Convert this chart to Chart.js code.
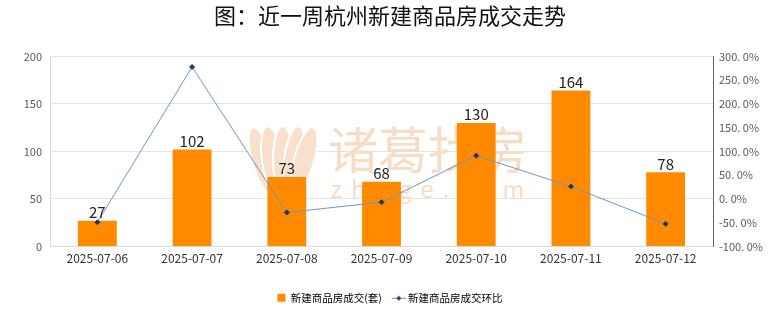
<!DOCTYPE html>
<html>
<head>
<meta charset="utf-8">
<script src="https://cdn.jsdelivr.net/npm/chart.js@4.4.1/dist/chart.umd.min.js"></script>
<style>
  html, body { margin: 0; padding: 0; background: #fff; }
</style>
</head>
<body>
<canvas id="dealChart" width="780" height="328"></canvas>
<script>
const days = ['2025-07-06', '2025-07-07', '2025-07-08', '2025-07-09', '2025-07-10', '2025-07-11', '2025-07-12']
const deals = [27, 102, 73, 68, 130, 164, 78]
const ratio = [-49.1, 277.8, -28.4, -6.8, 91.2, 26.2, -52.4]

const font = "'Noto Sans CJK SC', 'Microsoft YaHei', sans-serif"

// little line + diamond used as legend marker for the ratio series
function lineMarker() {
  const c = document.createElement('canvas')
  c.width = 14
  c.height = 8
  const ctx = c.getContext('2d')
  ctx.strokeStyle = '#5b8cc0'
  ctx.lineWidth = 1
  ctx.beginPath()
  ctx.moveTo(0, 4.5)
  ctx.lineTo(14, 4.5)
  ctx.stroke()
  ctx.fillStyle = '#1f3a5f'
  ctx.beginPath()
  ctx.moveTo(7, 2)
  ctx.lineTo(9.5, 4.5)
  ctx.lineTo(7, 7)
  ctx.lineTo(4.5, 4.5)
  ctx.closePath()
  ctx.fill()
  return c
}

const barLabels = {
  id: 'barLabels',
  afterDatasetsDraw(chart) {
    const ctx = chart.ctx
    const meta = chart.getDatasetMeta(0)
    ctx.save()
    ctx.font = '15px ' + font
    ctx.fillStyle = '#222'
    ctx.textAlign = 'center'
    ctx.textBaseline = 'bottom'
    meta.data.forEach(function(bar, i) {
      ctx.fillText(deals[i], bar.x, bar.y - 1)
    })
    ctx.restore()
  }
}

// faint logo watermark behind the bars
const watermark = {
  id: 'watermark',
  beforeDatasetsDraw(chart) {
    const ctx = chart.ctx
    ctx.save()
    ctx.fillStyle = '#f8e0cd'
    ctx.strokeStyle = '#fff'
    ctx.lineWidth = 2
    const petals = [[-0.55, 262], [-0.28, 272], [0, 283], [0.28, 294], [0.55, 304]]
    petals.forEach(function(p) {
      ctx.beginPath()
      ctx.ellipse(p[1], 160, 10, 34, p[0] * 0.5, 0, Math.PI * 2)
      ctx.fill()
      ctx.stroke()
    })
    ctx.fillStyle = '#f7dcc6'
    ctx.textAlign = 'center'
    ctx.textBaseline = 'middle'
    ctx.font = '50px ' + font
    ctx.fillText('诸葛找房', 428, 150)
    ctx.font = '24px ' + font
    ctx.letterSpacing = '9px'
    ctx.fillText('zhuge.com', 432, 189)
    ctx.restore()
  }
}

new Chart(document.getElementById('dealChart'), {
  type: 'bar',
  data: {
    labels: days,
    datasets: [{
      label: '新建商品房成交(套)',
      data: deals,
      backgroundColor: '#ff8a00',
      barPercentage: 0.41,
      categoryPercentage: 1,
      yAxisID: 'y',
      order: 2
    }, {
      type: 'line',
      label: '新建商品房成交环比',
      data: ratio,
      borderColor: '#6b98c4',
      borderWidth: 1,
      pointStyle: 'rectRot',
      pointRadius: 2.5,
      pointBackgroundColor: '#1f3a5f',
      pointBorderColor: '#1f3a5f',
      tension: 0,
      yAxisID: 'y1',
      order: 1
    }]
  },
  options: {
    responsive: false,
    animation: false,
    devicePixelRatio: 1,
    layout: { padding: { left: 0, right: 0, top: 0, bottom: 15 } },
    plugins: {
      title: {
        display: true,
        text: '图：近一周杭州新建商品房成交走势',
        color: '#111',
        font: { family: font, size: 22, weight: 'normal' },
        padding: { top: 2, bottom: 28 }
      },
      legend: {
        position: 'bottom',
        labels: {
          color: '#333',
          font: { family: font, size: 10.5 },
          boxWidth: 8,
          boxHeight: 8,
          padding: 13,
          usePointStyle: true,
          generateLabels(chart) {
            return [{
              text: '新建商品房成交(套)',
              fillStyle: '#ff8a00',
              strokeStyle: '#ff8a00',
              lineWidth: 0,
              datasetIndex: 0,
              pointStyle: 'rect'
            }, {
              text: '新建商品房成交环比',
              fillStyle: '#1f3a5f',
              strokeStyle: '#1f3a5f',
              lineWidth: 0,
              datasetIndex: 1,
              pointStyle: lineMarker()
            }]
          }
        }
      },
      tooltip: { enabled: false }
    },
    scales: {
      x: {
        grid: { display: false },
        border: { color: '#d9d9d9' },
        ticks: { color: '#333', font: { family: font, size: 12 }, padding: -3, maxRotation: 0, autoSkip: false },
        afterFit(scale) { scale.height = 33 }
      },
      y: {
        position: 'left',
        min: 0,
        max: 200,
        ticks: { stepSize: 50, color: '#595959', font: { family: font, size: 11 }, padding: 8 },
        grid: { color: '#e3e3e3', drawTicks: false },
        border: { color: '#d9d9d9' },
        afterFit(scale) { scale.width = 50 }
      },
      y1: {
        position: 'right',
        min: -100,
        max: 300,
        ticks: {
          stepSize: 50,
          color: '#595959',
          font: { family: font, size: 11 },
          padding: 6,
          callback: function(v) { return v.toFixed(1).replace('.', '. ') + '%' }
        },
        grid: { display: false, drawTicks: false },
        border: { color: '#666', dash: [1, 2], width: 1 },
        afterFit(scale) { scale.width = 67 }
      }
    }
  },
  plugins: [watermark, barLabels]
})
</script>
</body>
</html>
